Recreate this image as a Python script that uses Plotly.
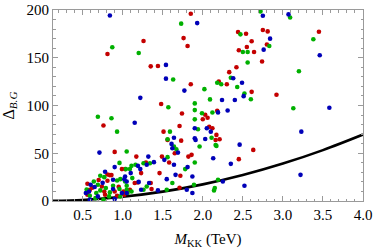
import plotly.graph_objects as go

# Red series (M_KK in TeV, Delta_BG)
red_m = [1.85, 0.81, 0.76, 1.26, 1.76, 1.81, 1.35, 1.44, 1.85, 1.48, 1.74, 2.03, 2.06, 2.00, 2.18,
         2.44, 2.54, 2.61, 2.55, 2.45, 2.64, 2.42, 2.33, 2.20, 2.30, 2.61, 2.75, 2.81, 3.45, 2.80,
         2.74, 2.92, 1.71, 2.08, 2.12, 2.17, 1.73, 2.16, 2.21, 2.63, 1.51, 0.90, 0.99, 0.81, 0.84,
         0.86, 0.81, 0.56, 0.74, 0.59, 0.77, 0.90, 1.01, 0.56, 0.78, 0.93, 1.02, 1.56, 1.65, 1.49,
         1.58, 1.29, 1.03, 1.23, 1.46, 1.15, 1.19, 1.35, 1.09, 1.36, 1.17, 1.86, 1.82, 2.45, 1.72, 1.71,
         0.62, 0.70, 0.95]
red_d = [196, 154, 79, 167.5, 170.6, 162.3, 141, 141.4, 122.3, 101.5, 91.6, 90.3, 87.2, 85.6, 94.5,
         176.9, 175.2, 167.2, 161.2, 157.8, 156, 140, 134.9, 125.2, 122.3, 114.3, 179, 177.6, 177.3, 163.8,
         146, 111.2, 78.5, 77.8, 76.1, 69.2, 63.2, 63.9, 64.7, 53.5, 72.6, 51.4, 33.4, 27.7, 27.1,
         27.1, 21.2, 18, 15.2, 11.8, 10, 10, 10, 6.6, 6.6, 5.5, 6.6, 64, 50, 46.5,
         40.3, 40.3, 33.4, 29.2, 29.2, 18.8, 19.4, 18.8, 11.8, 12.5, 46.5, 48.3, 46.5, 43.8, 26.4, 13.9,
         14, 22, 15]

# Green series
green_m = [0.87, 0.69, 0.86, 0.93, 1.73, 1.20, 1.63, 2.02, 1.57, 1.90, 1.90, 1.90, 1.99, 2.09, 2.12,
           2.47, 2.50, 2.56, 2.56, 2.35, 2.18, 2.23, 2.43, 2.52, 2.60, 2.72, 3.09, 3.38, 2.83, 3.20,
           3.13, 1.59, 1.94, 1.56, 2.11, 2.16, 1.05, 0.96, 1.04, 0.72, 0.77, 0.93, 0.97, 1.03, 0.64,
           0.69, 0.79, 0.72, 0.84, 0.96, 1.05, 0.59, 0.67, 0.83, 0.97, 1.06, 0.76, 1.64, 1.67, 1.56,
           1.34, 1.26, 1.16, 1.11, 1.09, 1.05, 1.30, 1.62, 1.11, 1.26, 1.55, 1.96, 2.17, 1.90, 1.78,
           1.89, 2.19, 2.15, 2.14, 0.55, 0.66, 0.88, 1.12]
green_d = [161, 88.2, 86.6, 72.6, 185.7, 155, 127.2, 117.1, 98.1, 102.2, 95.2, 85.5, 91.9, 106.4, 92.6,
           174.5, 156, 156, 145, 129.1, 123.9, 122.3, 119.4, 112.6, 106.5, 198.5, 192.2, 169.3, 162.3, 135.9,
           97.1, 72.6, 75.1, 64.7, 66.3, 58.7, 51.9, 39.9, 33.4, 26.4, 25, 21.5, 22.9, 20.4, 20.4,
           17, 13.6, 11.1, 9, 12.5, 11.8, 5.5, 8.3, 4.8, 4.8, 8.3, 1.4, 57, 54.2, 45.9,
           39.6, 39.6, 37.9, 36.8, 33.4, 16, 15.2, 18.8, 10, 11.8, 11.8, 57, 57.7, 40.3, 33.4,
           17, 22.2, 13.6, 11.1, 12, 3, 16, 24]

# Blue series
blue_m = [0.84, 1.93, 1.22, 1.15, 1.54, 1.54, 1.77, 2.24, 2.31, 2.40, 2.19, 2.38, 2.49, 2.51, 2.75,
          3.07, 2.84, 2.76, 3.46, 3.58, 3.23, 3.22, 2.46, 1.90, 2.05, 2.10, 1.64, 1.90, 1.91, 2.03,
          1.61, 0.71, 0.90, 0.78, 0.88, 1.02, 0.60, 0.65, 0.88, 0.99, 0.54, 0.69, 0.90, 0.59, 1.62,
          1.69, 1.32, 1.52, 1.64, 1.39, 1.30, 1.19, 1.22, 1.10, 1.55, 1.66, 1.03, 1.05, 1.33, 1.23,
          1.44, 1.05, 2.13, 2.35, 1.81, 1.87, 2.25, 1.80, 1.87, 2.52, 0.58, 0.75, 1.20]
blue_d = [194.3, 186.3, 108, 82, 142.5, 128.1, 115.6, 105.7, 94.7, 105.7, 92.8, 128.6, 123.9, 109.8, 194,
          195.4, 170, 158.5, 152.6, 97.6, 72.6, 27.4, 59, 76.1, 76.1, 72.6, 66.3, 65.7, 63.9, 65,
          59.8, 50.7, 35.5, 30.6, 22.2, 22.9, 17, 14.6, 12.5, 8.3, 8.3, 4.8, 2.1, 1.4, 55.3,
          50.7, 46.5, 43.1, 37.9, 40.7, 37.9, 36.8, 33.4, 29.2, 22.9, 27.4, 25.7, 20.4, 18.8, 11.8,
          11.1, 8.3, 44.8, 38.9, 35.5, 25.7, 20.4, 11.8, 8.3, 16, 10, 19, 20]

# Bound curve
curve_m = [0.13, 0.5, 1.0, 1.5, 2.0, 2.5, 3.0, 3.5, 4.0]
curve_d = [0.1, 1.1, 4.4, 9.8, 17.4, 27.2, 39.2, 53.3, 69.6]

x_tick_vals = [0.5, 1.0, 1.5, 2.0, 2.5, 3.0, 3.5, 4.0]
x_tick_text = ["0.5", "1.0", "1.5", "2.0", "2.5", "3.0", "3.5", "4.0"]
y_tick_vals = [0, 50, 100, 150, 200]

FONT = "Liberation Serif, Times New Roman, serif"

fig = go.Figure()
fig.add_trace(go.Scatter(x=curve_m, y=curve_d, mode="lines", line=dict(color="black", width=2.6, shape="spline"),
                         hoverinfo="skip", showlegend=False))
for xs, ys, col in [(red_m, red_d, "#c40000"), (green_m, green_d, "#00b000"), (blue_m, blue_d, "#0000b8")]:
    fig.add_trace(go.Scatter(x=xs, y=ys, mode="markers", marker=dict(color=col, size=4.6, line=dict(width=0)),
                             showlegend=False))

axis_common = dict(showgrid=False, zeroline=False, showline=True, linecolor="#9a9a9a", linewidth=1,
                   mirror="ticks", ticks="inside", ticklen=5, tickcolor="#9a9a9a", tickwidth=1,
                   automargin=False,
                   tickfont=dict(family=FONT, size=15, color="black"))

fig.update_layout(
    width=374, height=250,
    margin=dict(l=53, r=11, t=10, b=49),
    paper_bgcolor="white", plot_bgcolor="white",
    xaxis=dict(range=[0.13, 4.0], tickvals=x_tick_vals, ticktext=x_tick_text,
               minor=dict(dtick=0.1, tick0=0, ticks="inside", ticklen=2.5, tickcolor="#9a9a9a"),
               title=dict(text="<i>M</i><sub>KK</sub> (TeV)", font=dict(family=FONT, size=15, color="black"), standoff=11),
               **axis_common),
    yaxis=dict(range=[0, 200], tickvals=y_tick_vals,
               minor=dict(dtick=10, tick0=0, ticks="inside", ticklen=2.5, tickcolor="#9a9a9a"),
               title=dict(text="Δ<sub><i>B.G</i></sub>", font=dict(family=FONT, size=16, color="black"), standoff=9),
               **axis_common),
)

fig.write_html("out.html", config={"displayModeBar": False},
               post_script="document.body.style.margin='0';document.body.style.padding='0';")
